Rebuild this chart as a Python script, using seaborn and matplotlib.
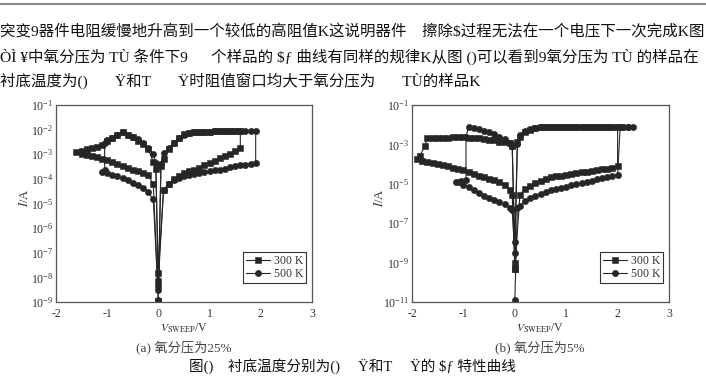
import numpy as np
import pandas as pd
import matplotlib
matplotlib.use("Agg")
import matplotlib.pyplot as plt
from matplotlib.lines import Line2D
from matplotlib.ticker import FixedLocator, LogLocator, MultipleLocator, LogFormatterSciNotation, NullFormatter
import seaborn as sns

# ---------------- data ----------------
# (a) oxygen partial pressure 25 %
V_a300 = [0.0,
          0.1, 0.2, 0.3, 0.4, 0.5, 0.6, 0.7, 0.8, 0.9, 1.0, 1.1, 1.2, 1.3, 1.4, 1.5, 1.6,
          1.6, 1.5, 1.4, 1.3, 1.2, 1.1, 1.0, 0.9, 0.8, 0.7, 0.6, 0.5, 0.4, 0.3, 0.2, 0.1, 0.05,
          0.0,
          -0.05, -0.1, -0.2, -0.3, -0.4, -0.5, -0.6, -0.7, -0.8, -0.9, -1.0, -1.1, -1.2, -1.3, -1.4, -1.5, -1.6,
          -1.5, -1.4, -1.3, -1.2, -1.1, -1.0, -0.9, -0.8, -0.7, -0.6, -0.5, -0.4, -0.3, -0.2, -0.1,
          0.0]
I_a300 = [1.5e-8,
          3.5e-5, 6.3e-5, 1.0e-4, 1.3e-4, 1.7e-4, 2.0e-4, 2.4e-4, 2.8e-4, 3.5e-4, 4.3e-4, 5.4e-4, 6.8e-4, 8.5e-4, 1.07e-3, 1.35e-3, 1.8e-3,
          8.7e-3, 8.7e-3, 8.6e-3, 8.6e-3, 8.5e-3, 8.4e-3, 8.3e-3, 8.2e-3, 8.0e-3, 7.8e-3, 7.5e-3, 6.5e-3, 4.5e-3, 2.9e-3, 1.6e-3, 6.3e-4, 3.2e-4,
          5.0e-9,
          2.5e-4, 5.0e-4, 1.6e-3, 2.5e-3, 3.5e-3, 5.0e-3, 6.3e-3, 8.3e-3, 6.3e-3, 4.7e-3, 3.5e-3, 2.3e-3, 2.0e-3, 1.8e-3, 1.6e-3, 1.4e-3, 1.25e-3,
          1.07e-3, 9.3e-4, 8.3e-4, 7.6e-4, 6.6e-4, 5.6e-4, 4.8e-4, 4.0e-4, 3.3e-4, 2.8e-4, 2.4e-4, 2.1e-4, 1.8e-4, 1.4e-4, 6.3e-5,
          1.1e-9]

V_a500 = [0.0,
          0.1, 0.2, 0.3, 0.4, 0.5, 0.6, 0.7, 0.8, 0.9, 1.0, 1.1, 1.2, 1.3, 1.4, 1.5, 1.6, 1.7, 1.8, 1.9,
          1.9, 1.8, 1.7, 1.6, 1.5, 1.4, 1.3, 1.2, 1.1, 1.0, 0.9, 0.8, 0.7, 0.6, 0.5, 0.4, 0.3, 0.2, 0.1, 0.05,
          0.0,
          -0.05, -0.1, -0.2, -0.3, -0.4, -0.5, -0.6, -0.7, -0.8, -0.9, -1.0,
          -1.05, -1.05, -1.1,
          -1.0, -0.9, -0.8, -0.7, -0.6, -0.5, -0.4, -0.3, -0.2, -0.1,
          0.0]
I_a500 = [8.0e-9,
          3.5e-5, 6.3e-5, 8.9e-5, 1.07e-4, 1.26e-4, 1.4e-4, 1.6e-4, 1.7e-4, 1.86e-4, 2.0e-4, 2.2e-4, 2.4e-4, 2.6e-4, 2.9e-4, 3.2e-4, 3.5e-4, 3.8e-4, 4.2e-4, 4.5e-4,
          8.8e-3, 8.8e-3, 8.8e-3, 8.7e-3, 8.7e-3, 8.6e-3, 8.6e-3, 8.5e-3, 8.4e-3, 8.3e-3, 8.2e-3, 8.1e-3, 7.9e-3, 7.4e-3, 6.3e-3, 4.5e-3, 2.8e-3, 1.8e-3, 1.1e-3, 4.0e-4,
          3.0e-9,
          4.5e-4, 1.0e-3, 1.8e-3, 2.8e-3, 4.0e-3, 5.0e-3, 6.3e-3, 7.9e-3, 6.3e-3, 4.7e-3, 3.8e-3,
          3.0e-3, 2.2e-4, 1.9e-4,
          1.8e-4, 1.5e-4, 1.26e-4, 1.05e-4, 8.9e-5, 7.1e-5, 5.6e-5, 4.2e-5, 2.8e-5, 1.5e-5,
          1.2e-9]

# (b) oxygen partial pressure 5 %
V_b300 = [0.0,
          0.1, 0.2, 0.3, 0.4, 0.5, 0.6, 0.7, 0.8, 0.9, 1.0, 1.1, 1.2, 1.3, 1.4, 1.5, 1.6, 1.7, 1.8, 1.9, 2.0,
          2.0, 1.9, 1.8, 1.7, 1.6, 1.5, 1.4, 1.3, 1.2, 1.1, 1.0, 0.9, 0.8, 0.7, 0.6, 0.5, 0.4, 0.3, 0.2, 0.1, 0.05,
          0.0,
          -0.05, -0.1, -0.2, -0.3, -0.4, -0.5, -0.6, -0.7, -0.8, -0.9, -1.0, -1.1, -1.2, -1.3, -1.4, -1.5, -1.6, -1.7,
          -1.75, -1.85, -1.9,
          -1.8, -1.7, -1.6, -1.5, -1.4, -1.3, -1.2, -1.1, -1.0, -0.9, -0.8, -0.7, -0.6, -0.5, -0.4, -0.3, -0.2, -0.1, -0.05,
          0.0]
I_b300 = [5.0e-10,
          2.7e-6, 5.6e-6, 7.9e-6, 1.1e-5, 1.4e-5, 1.8e-5, 2.1e-5, 2.4e-5, 2.6e-5, 2.9e-5, 3.2e-5, 3.5e-5, 3.8e-5, 4.1e-5, 4.5e-5, 4.9e-5, 5.4e-5, 5.9e-5, 6.5e-5, 7.9e-5,
          7.9e-3, 7.9e-3, 7.9e-3, 7.9e-3, 7.9e-3, 7.9e-3, 7.9e-3, 7.9e-3, 7.9e-3, 7.9e-3, 7.9e-3, 7.9e-3, 7.9e-3, 7.8e-3, 7.7e-3, 7.6e-3, 6.6e-3, 5.6e-3, 4.5e-3, 2.5e-3, 1.26e-3,
          1.0e-9,
          7.9e-4, 1.12e-3, 1.26e-3, 1.4e-3, 1.58e-3, 1.66e-3, 1.9e-3, 2.0e-3, 2.1e-3, 2.2e-3, 2.4e-3, 2.35e-3, 2.3e-3, 2.24e-3, 2.2e-3, 2.14e-3, 2.14e-3, 2.24e-3,
          8.3e-4, 2.5e-4, 1.8e-4,
          1.48e-4, 1.35e-4, 1.2e-4, 1.07e-4, 9.5e-5, 7.6e-5, 6.6e-5, 5.6e-5, 4.8e-5, 4.0e-5, 3.2e-5, 2.6e-5, 2.2e-5, 1.8e-5, 1.5e-5, 1.26e-5, 8.9e-6, 5.0e-6, 2.7e-6,
          5.0e-10]

V_b500 = [0.0,
          0.05, 0.1, 0.2, 0.3, 0.4, 0.5, 0.6, 0.7, 0.8, 0.9, 1.0, 1.1, 1.2, 1.3, 1.4, 1.5, 1.6, 1.7, 1.8, 1.9, 2.0,
          2.05, 2.1, 2.2, 2.3,
          2.2, 2.1, 2.0, 1.9, 1.8, 1.7, 1.6, 1.5, 1.4, 1.3, 1.2, 1.1, 1.0, 0.9, 0.8, 0.7, 0.6, 0.5, 0.4, 0.3, 0.2, 0.1, 0.05,
          0.0,
          -0.05, -0.1, -0.2, -0.3, -0.4, -0.5, -0.6, -0.7, -0.8, -0.9,
          -0.95, -0.95, -1.05, -1.15,
          -1.1, -1.0, -0.9, -0.8, -0.7, -0.6, -0.5, -0.4, -0.3, -0.2, -0.1, -0.05,
          0.0]
I_b500 = [1.2e-11,
          5.9e-7, 7.9e-7, 1.4e-6, 2.0e-6, 2.5e-6, 3.2e-6, 3.8e-6, 4.7e-6, 5.4e-6, 6.3e-6, 7.2e-6, 8.3e-6, 9.5e-6, 1.1e-5, 1.26e-5, 1.45e-5, 1.66e-5, 1.9e-5, 2.2e-5, 2.5e-5, 2.8e-5,
          7.9e-3, 8.0e-3, 8.0e-3, 8.0e-3,
          8.0e-3, 8.0e-3, 7.9e-3, 7.9e-3, 7.9e-3, 7.9e-3, 7.9e-3, 7.9e-3, 7.9e-3, 7.9e-3, 7.9e-3, 7.9e-3, 7.9e-3, 7.9e-3, 7.9e-3, 7.9e-3, 7.9e-3, 7.6e-3, 7.1e-3, 6.3e-3, 5.0e-3, 3.0e-3, 1.1e-3,
          1.1e-8,
          8.0e-4, 1.2e-3, 1.78e-3, 2.5e-3, 3.4e-3, 4.2e-3, 5.0e-3, 6.0e-3, 7.1e-3, 7.9e-3,
          2.4e-3, 1.6e-5, 1.4e-5, 1.26e-5,
          1.2e-5, 8.9e-6, 6.6e-6, 4.8e-6, 3.5e-6, 2.5e-6, 1.9e-6, 1.5e-6, 1.2e-6, 9.3e-7, 5.6e-7, 4.7e-7,
          3.0e-9]

series_labels = ["300 K", "500 K"]
x_ticks = [-2, -1, 0, 1, 2, 3]
captions = ["(a) 氧分压为25%", "(b) 氧分压为5%"]
body_lines = [
    "突变9器件电阻缓慢地升高到一个较低的高阻值K这说明器件    擦除$过程无法在一个电压下一次完成K图",
    "ÒÌ ¥中氧分压为 TÙ 条件下9      个样品的 $ƒ 曲线有同样的规律K从图 ()可以看到9氧分压为 TÙ 的样品在",
    "衬底温度为()       Ÿ和T       Ÿ时阻值窗口均大于氧分压为       TÙ的样品K",
]
fig_caption = "图()    衬底温度分别为()     Ÿ和T     Ÿ的 $ƒ 特性曲线"

# ---------------- style ----------------
sns.set_style("white")
plt.rcParams["font.family"] = ["Liberation Serif", "Noto Sans CJK SC"]
plt.rcParams["mathtext.fontset"] = "stix"
plt.rcParams["axes.unicode_minus"] = False

W, H = 706, 379
fig = plt.figure(figsize=(W / 100, H / 100), dpi=100)

INK = "#262626"
AX_COL = "#555555"
TXT = "#333333"


def px_axes(x0, y0, x1, y1):
    return fig.add_axes([x0 / W, 1 - y1 / H, (x1 - x0) / W, (y1 - y0) / H])


def draw(ax, V, I, marker, ms, label):
    df = pd.DataFrame({"V": V, "I": I})
    sns.lineplot(data=df, x="V", y="I", sort=False, estimator=None, ax=ax,
                 color=INK, linewidth=0.8, marker=marker, markersize=ms,
                 markeredgewidth=0.4, markeredgecolor=INK, label=label)


def style(ax, ymin, ymax, majors):
    ax.set_yscale("log")
    ax.set_xlim(-2, 3)
    ax.set_ylim(ymin, ymax)
    ax.xaxis.set_major_locator(FixedLocator(x_ticks))
    ax.xaxis.set_minor_locator(MultipleLocator(0.5))
    ax.yaxis.set_major_locator(FixedLocator(majors))
    ax.yaxis.set_major_formatter(LogFormatterSciNotation())
    ax.yaxis.set_minor_locator(LogLocator(base=10, subs=np.arange(1, 10), numticks=100))
    ax.yaxis.set_minor_formatter(NullFormatter())
    ax.tick_params(which="both", direction="in", top=False, right=False,
                   colors=AX_COL, labelcolor=TXT, labelsize=8.5, width=0.7)
    ax.tick_params(which="major", length=3.5, pad=2)
    ax.tick_params(which="minor", length=1.8)
    ax.tick_params(axis="x", which="major", pad=4.5)
    for s in ax.spines.values():
        s.set_color(AX_COL)
        s.set_linewidth(0.9)
    ax.set_xlabel("")
    ax.set_ylabel("")
    leg = ax.legend(loc="lower right", bbox_to_anchor=(0.977, 0.096), borderaxespad=0,
                    frameon=True, fancybox=False, edgecolor="#333333", framealpha=1,
                    fontsize=8.5, handlelength=2.0, borderpad=0.25, labelspacing=0.1,
                    handletextpad=0.35)
    leg.get_frame().set_linewidth(0.8)
    for t in leg.get_texts():
        t.set_color(TXT)


ax_a = px_axes(56, 105, 312, 302)
draw(ax_a, V_a300, I_a300, "s", 3.9, series_labels[0])
draw(ax_a, V_a500, I_a500, "o", 4.5, series_labels[1])
style(ax_a, 1e-9, 1e-1, [10.0 ** k for k in range(-9, 0)])

ax_b = px_axes(412, 105, 669, 302)
draw(ax_b, V_b300, I_b300, "s", 3.9, series_labels[0])
draw(ax_b, V_b500, I_b500, "o", 4.5, series_labels[1])
style(ax_b, 1e-11, 1e-1, [10.0 ** k for k in range(-11, 0, 2)])

# axis labels and sub-captions
for xc_px, yl_px, cap in [(184, 25, captions[0]), (540, 380, captions[1])]:
    fig.text(xc_px / W, 1 - 328 / H, r"$V_{\mathrm{SWEEP}}$/V", ha="center", va="center",
             fontsize=8.5, color=TXT)
    fig.text(yl_px / W, 1 - 198 / H, r"$I$/A", ha="center", va="center", rotation=90,
             fontsize=9, color=TXT)
    fig.text(xc_px / W, 1 - 347 / H, cap, ha="center", va="center", fontsize=9.5,
             color="#444444")

# body text of the page
for y_px, line in zip([32, 57, 81], body_lines):
    fig.text(0 / W, 1 - y_px / H, line, ha="left", va="center", fontsize=11.15,
             color="#111111")
fig.text(352 / W, 1 - 366 / H, fig_caption, ha="center", va="center", fontsize=10.5,
         color="#111111")

# top rule
fig.add_artist(Line2D([0, 1], [1 - 4 / H, 1 - 4 / H], color="#888888", linewidth=1.5))

fig.savefig("out.png", dpi=100)
